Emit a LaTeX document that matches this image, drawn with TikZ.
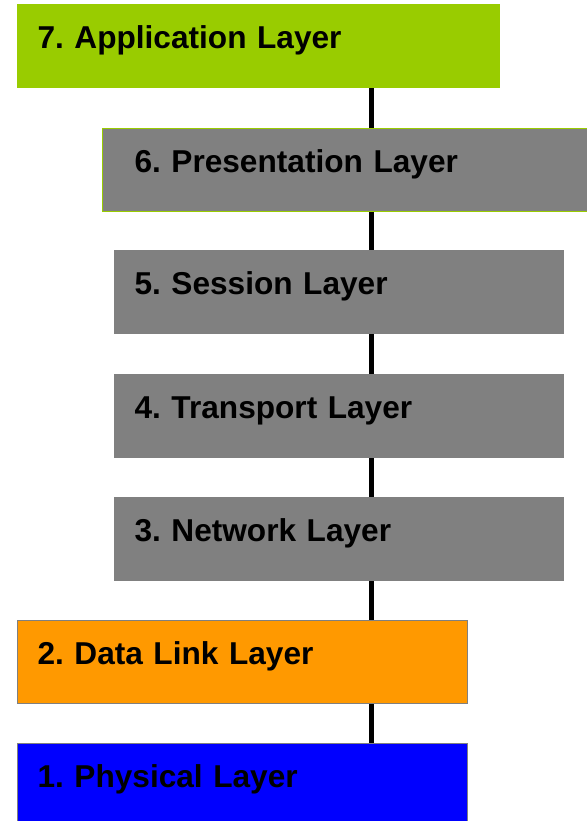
\documentclass[tikz,border=0pt]{standalone}
\usepackage{fontspec}
\setmainfont{Liberation Sans}
\frenchspacing
\definecolor{appgreen}{HTML}{99CC00}
\definecolor{midgray}{HTML}{808080}
\definecolor{linkorange}{HTML}{FF9900}
\definecolor{physblue}{HTML}{0000FF}
\tikzset{
  layer/.style={anchor=north west, align=left, inner xsep=0.4cm, inner ysep=0.2cm,
    text height=0.67cm, text depth=0.59cm, line width=0.6pt,
    font=\fontsize{18}{22}\selectfont\bfseries\frenchspacing},
  link/.style={line width=2.8pt, black}
}
\begin{document}
\begin{tikzpicture}[x=0.02cm, y=-0.02cm]
                \useasboundingbox (0,0) rectangle (586,821);
                % Eje vertical
                \coordinate (spine) at (371.5,0);

                % Capas
                \node[layer, fill=appgreen, draw=appgreen, text width=8.84cm] (l7) at (17,4) {7. Application Layer};
                \node[layer, fill=midgray, draw=appgreen, text width=9.0cm] (l6) at (102,128) {\hspace*{0.24cm}6. Presentation Layer};
                \node[layer, fill=midgray, draw=midgray, text width=8.18cm] (l5) at (114,250) {5. Session Layer};
                \node[layer, fill=midgray, draw=midgray, text width=8.18cm] (l4) at (114,374) {4. Transport Layer};
                \node[layer, fill=midgray, draw=midgray, text width=8.18cm] (l3) at (114,497) {3. Network Layer};
                \node[layer, fill=linkorange, draw=midgray, text width=8.2cm] (l2) at (17,620) {2. Data Link Layer};
                \node[layer, fill=physblue, draw=midgray, text width=8.2cm] (l1) at (17,743) {1. Physical Layer};

                % Enlaces
                \foreach \a/\b in {l7/l6, l6/l5, l5/l4, l4/l3, l3/l2, l2/l1}
                    \draw[link] (\a.south -| spine) -- (\b.north -| spine);

            \end{tikzpicture}
\end{document}
